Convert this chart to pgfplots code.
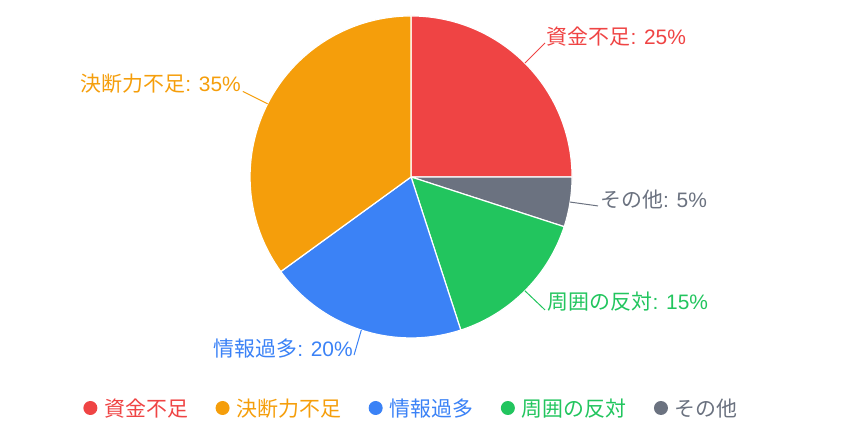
\documentclass[border=0pt]{standalone}
\usepackage{pgfplots}
\pgfplotsset{compat=1.18}
\usepackage{fontspec}
\setmainfont{Liberation Sans}
\newfontfamily\cjk{Noto Sans CJK JP}
\definecolor{cRed}{HTML}{EF4444}
\definecolor{cOrange}{HTML}{F59E0B}
\definecolor{cBlue}{HTML}{3B82F6}
\definecolor{cGreen}{HTML}{22C55E}
\definecolor{cGray}{HTML}{6B7280}
\begin{document}
\begin{tikzpicture}
% shares in percent, drawn clockwise from 12 o'clock
\def\vRed{25}\def\vGray{5}\def\vGreen{15}\def\vBlue{20}\def\vOrange{35}
\pgfmathsetmacro\aA{90}
\pgfmathsetmacro\aB{\aA-3.6*\vRed}
\pgfmathsetmacro\aC{\aB-3.6*\vGray}
\pgfmathsetmacro\aD{\aC-3.6*\vGreen}
\pgfmathsetmacro\aE{\aD-3.6*\vBlue}
\pgfmathsetmacro\aF{\aE-3.6*\vOrange}
\begin{axis}[x=161bp, y=161bp,
  xmin=-2.553, xmax=2.720, ymin=-1.547, ymax=1.099,
  hide axis, clip=false,
  legend columns=5,
  legend image code/.code={\fill[draw=none] (0bp,0bp) circle (7bp); \path[draw=none,fill=none] (7bp,0bp) -- (13bp,0bp);},
  legend style={at={(axis cs:0.0,-1.435)}, anchor=center, draw=none, fill=none,
    font=\fontsize{21}{25}\selectfont,
    nodes={inner sep=1bp},
    /tikz/every even column/.append style={column sep=26.5bp}},
]
\path (rel axis cs:0,0) rectangle (rel axis cs:1,1);
\addplot[forget plot, fill=cRed, draw=white, line width=1.2bp, domain=\aB:\aA, samples=60] ({cos(x)},{sin(x)}) -- (axis cs:0,0) -- cycle;
\addplot[forget plot, fill=cGray, draw=white, line width=1.2bp, domain=\aC:\aB, samples=20] ({cos(x)},{sin(x)}) -- (axis cs:0,0) -- cycle;
\addplot[forget plot, fill=cGreen, draw=white, line width=1.2bp, domain=\aD:\aC, samples=40] ({cos(x)},{sin(x)}) -- (axis cs:0,0) -- cycle;
\addplot[forget plot, fill=cBlue, draw=white, line width=1.2bp, domain=\aE:\aD, samples=50] ({cos(x)},{sin(x)}) -- (axis cs:0,0) -- cycle;
\addplot[forget plot, fill=cOrange, draw=white, line width=1.2bp, domain=\aF:\aE, samples=80] ({cos(x)},{sin(x)}) -- (axis cs:0,0) -- cycle;
% leader lines
\addplot[forget plot, cRed, line width=1bp] coordinates {(0.707,0.707) (0.832,0.832)};
\addplot[forget plot, cGray, line width=1bp] coordinates {(0.988,-0.156) (1.161,-0.180)};
\addplot[forget plot, cGreen, line width=1bp] coordinates {(0.707,-0.707) (0.832,-0.826)};
\addplot[forget plot, cBlue, line width=1bp] coordinates {(-0.309,-0.951) (-0.354,-1.106)};
\addplot[forget plot, cOrange, line width=1bp] coordinates {(-0.891,0.454) (-1.045,0.531)};
% labels
\node[anchor=west, inner sep=1bp, text=cRed, font=\fontsize{21}{25}\selectfont] at (axis cs:0.836,0.870) {{\cjk 資金不足}: 25\%};
\node[anchor=east, inner sep=1bp, text=cOrange, font=\fontsize{21}{25}\selectfont] at (axis cs:-1.050,0.578) {{\cjk 決断力不足}: 35\%};
\node[anchor=west, inner sep=1bp, text=cGray, font=\fontsize{21}{25}\selectfont] at (axis cs:1.168,-0.143) {{\cjk その他}: 5\%};
\node[anchor=west, inner sep=1bp, text=cGreen, font=\fontsize{21}{25}\selectfont] at (axis cs:0.843,-0.776) {{\cjk 周囲の反対}: 15\%};
\node[anchor=east, inner sep=1bp, text=cBlue, font=\fontsize{21}{25}\selectfont] at (axis cs:-0.355,-1.068) {{\cjk 情報過多}: 20\%};
% legend
\addlegendimage{fill=cRed}\addlegendentry{\textcolor{cRed}{\cjk 資金不足}}
\addlegendimage{fill=cOrange}\addlegendentry{\textcolor{cOrange}{\cjk 決断力不足}}
\addlegendimage{fill=cBlue}\addlegendentry{\textcolor{cBlue}{\cjk 情報過多}}
\addlegendimage{fill=cGreen}\addlegendentry{\textcolor{cGreen}{\cjk 周囲の反対}}
\addlegendimage{fill=cGray}\addlegendentry{\textcolor{cGray}{\cjk その他}}
\end{axis}
\end{tikzpicture}
\end{document}
